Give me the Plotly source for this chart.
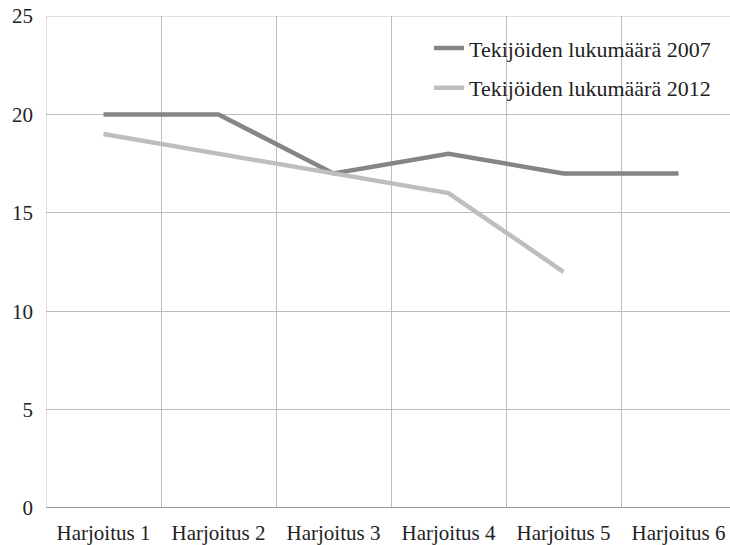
import plotly.graph_objects as go

categories = ["Harjoitus 1", "Harjoitus 2", "Harjoitus 3", "Harjoitus 4", "Harjoitus 5", "Harjoitus 6"]
series_2007 = [20, 20, 17, 18, 17, 17]
series_2012 = [19, 18, 17, 16, 12, None]
name_2007 = "Tekijöiden lukumäärä 2007"
name_2012 = "Tekijöiden lukumäärä 2012"
y_ticks = [0, 5, 10, 15, 20, 25]

xpos = [i + 0.5 for i in range(len(categories))]

fig = go.Figure()
fig.add_trace(go.Scatter(x=xpos, y=series_2007, mode="lines", name=name_2007,
                         line=dict(color="#858585", width=4.5), legendgroup="a"))
fig.add_trace(go.Scatter(x=xpos, y=series_2012, mode="lines", name=name_2012,
                         line=dict(color="#bebebe", width=4.5), legendgroup="b"))

family = "Liberation Serif, Times New Roman, serif"
font = dict(family=family, size=21, color="#222222")

fig.update_layout(
    width=730, height=545,
    margin=dict(l=46, r=0, t=16, b=37, autoexpand=False),
    paper_bgcolor="white", plot_bgcolor="white",
    font=font,
    showlegend=True,
    legend=dict(x=0.56, y=0.977, xanchor="left", yanchor="top",
                bgcolor="rgba(0,0,0,0)", tracegroupgap=8,
                font=dict(family=family, size=22, color="#222222")),
    xaxis=dict(range=[0, 6 - 6 / 115], tickvals=xpos, ticktext=categories,
               showgrid=False, zeroline=False, ticks="", showline=False,
               ticklabelstandoff=10, automargin=False, ticklabeloverflow="allow",
               minor=dict(tickvals=list(range(0, 7)), showgrid=True,
                          gridcolor="#bdbdbd", gridwidth=1, ticks="")),
    yaxis=dict(range=[0, 25], tickvals=y_ticks, showgrid=True, gridcolor="#bdbdbd",
               gridwidth=1, zeroline=False, ticks="", showline=False,
               ticklabelstandoff=12, automargin=False, ticklabeloverflow="allow"),
)
fig.add_hline(y=25, line=dict(color="#bdbdbd", width=1), layer="below")
fig.add_vline(x=0, line=dict(color="#bdbdbd", width=1), layer="below")
fig.add_hline(y=0, line=dict(color="#999999", width=2))

fig.write_html("out.html", config={"displayModeBar": False},
               post_script="document.body.style.margin='0';document.body.style.overflow='hidden';")
